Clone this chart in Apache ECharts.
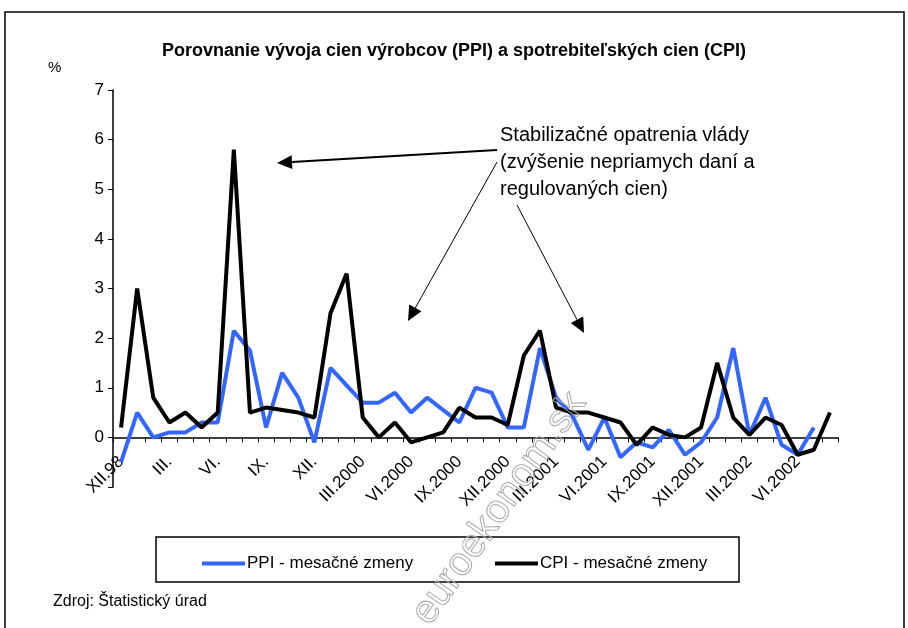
<!DOCTYPE html>
<html lang="sk">
<head>
    <meta charset="UTF-8">
    <title>PPI a CPI</title>
    <script src="https://cdn.jsdelivr.net/npm/echarts@6/dist/echarts.min.js"></script>
    <style>
        html, body { margin: 0; padding: 0; background: #fff; }
    </style>
</head>
<body>
    <div id="main" style="width: 908px;height:628px;"></div>
    <script>
        // mesiace XII.98 - VIII.2002
        const months = ['XII.98', 'I.', 'II.', 'III.', 'IV.', 'V.', 'VI.', 'VII.', 'VIII.', 'IX.', 'X.', 'XI.', 'XII.',
            'I.2000', 'II.2000', 'III.2000', 'IV.2000', 'V.2000', 'VI.2000', 'VII.2000', 'VIII.2000', 'IX.2000', 'X.2000', 'XI.2000', 'XII.2000',
            'I.2001', 'II.2001', 'III.2001', 'IV.2001', 'V.2001', 'VI.2001', 'VII.2001', 'VIII.2001', 'IX.2001', 'X.2001', 'XI.2001', 'XII.2001',
            'I.2002', 'II.2002', 'III.2002', 'IV.2002', 'V.2002', 'VI.2002', 'VII.2002', 'VIII.2002'];

        // PPI - mesačné zmeny (%)
        const ppi = [-0.5, 0.5, 0.0, 0.1, 0.1, 0.3, 0.3, 2.15, 1.75, 0.2,
            1.3, 0.8, -0.1, 1.4, 1.05, 0.7, 0.7, 0.9, 0.5, 0.8,
            0.55, 0.3, 1.0, 0.9, 0.2, 0.2, 1.8, 0.8, 0.45, -0.25,
            0.4, -0.4, -0.1, -0.2, 0.15, -0.35, -0.1, 0.4, 1.8, 0.05,
            0.8, -0.15, -0.35, 0.2, null];

        // CPI - mesačné zmeny (%)
        const cpi = [0.2, 3.0, 0.8, 0.3, 0.5, 0.2, 0.5, 5.8, 0.5, 0.6,
            0.55, 0.5, 0.4, 2.5, 3.3, 0.4, 0.0, 0.3, -0.1, 0.0,
            0.1, 0.6, 0.4, 0.4, 0.25, 1.65, 2.15, 0.6, 0.5, 0.5,
            0.4, 0.3, -0.15, 0.2, 0.05, 0.0, 0.2, 1.5, 0.4, 0.05,
            0.4, 0.25, -0.35, -0.25, 0.5];

        const FONT = '"Liberation Sans", Arial, sans-serif';

        // sipka s plnou hlavou
        function arrow(x1, y1, x2, y2, w) {
            const a = Math.atan2(y2 - y1, x2 - x1);
            const len = 15, half = 7;
            const bx = x2 - len * Math.cos(a), by = y2 - len * Math.sin(a);
            const px = -Math.sin(a) * half, py = Math.cos(a) * half;
            return [
                { type: 'line', shape: { x1: x1, y1: y1, x2: bx, y2: by }, style: { stroke: '#000', lineWidth: w } },
                { type: 'polygon', shape: { points: [[x2, y2], [bx + px, by + py], [bx - px, by - py]] }, style: { fill: '#000' } }
            ];
        }

        let myChart = echarts.init(document.getElementById('main'));

        let option = {
            backgroundColor: '#fff',
            animation: false,
            title: {
                text: 'Porovnanie vývoja cien výrobcov (PPI) a spotrebiteľských cien (CPI)',
                left: 'center',
                top: 37,
                textStyle: { fontFamily: FONT, fontSize: 18, fontWeight: 'bold', color: '#000' }
            },
            legend: [
                {
                    data: ['PPI - mesačné zmeny'], left: 197, top: 550,
                    icon: 'rect', itemWidth: 43, itemHeight: 4, itemGap: 4,
                    textStyle: { fontFamily: FONT, fontSize: 17, color: '#000', padding: [0, 0, 0, -3] }
                },
                {
                    data: ['CPI - mesačné zmeny'], left: 490, top: 550,
                    icon: 'rect', itemWidth: 43, itemHeight: 4, itemGap: 4,
                    textStyle: { fontFamily: FONT, fontSize: 17, color: '#000', padding: [0, 0, 0, -3] }
                }
            ],
            grid: { left: 113, right: 70, top: 90, bottom: 141 },
            xAxis: {
                type: 'category',
                data: months,
                boundaryGap: true,
                axisLine: { onZero: true, lineStyle: { color: '#000', width: 1.5 } },
                axisTick: { show: true, interval: 0, length: 5, lineStyle: { color: '#000' } },
                axisLabel: {
                    interval: 2, rotate: 45, margin: -28,
                    fontFamily: FONT, fontSize: 17, color: '#000'
                },
                splitLine: { show: false }
            },
            yAxis: {
                type: 'value',
                min: -1, max: 7, interval: 1,
                axisLine: { show: true, lineStyle: { color: '#000', width: 1.5 } },
                axisTick: { show: true, length: 5, lineStyle: { color: '#000' } },
                axisLabel: {
                    margin: 9, fontFamily: FONT, fontSize: 17, color: '#000',
                    formatter: function (v) { return v < 0 ? '' : v; }
                },
                splitLine: { show: false }
            },
            series: [
                {
                    name: 'PPI - mesačné zmeny',
                    type: 'line',
                    data: ppi,
                    symbol: 'none',
                    itemStyle: { color: '#3366ff' },
                    lineStyle: { color: '#3366ff', width: 4 }
                },
                {
                    name: 'CPI - mesačné zmeny',
                    type: 'line',
                    data: cpi,
                    symbol: 'none',
                    itemStyle: { color: '#000' },
                    lineStyle: { color: '#000', width: 4 }
                }
            ],
            graphic: [
                { type: 'rect', shape: { x: 5, y: 12, width: 899, height: 640 }, style: { fill: 'none', stroke: '#000', lineWidth: 1.5 }, silent: true },
                { type: 'text', x: 48, y: 60, style: { text: '%', font: '15px ' + FONT, fill: '#000' } },
                {
                    type: 'text', x: 500, y: 122,
                    style: { text: 'Stabilizačné opatrenia vlády\n(zvýšenie nepriamych daní a\nregulovaných cien)', font: '20px ' + FONT, fill: '#000', lineHeight: 27 }
                },
                ...arrow(497, 150, 277, 163, 2),
                ...arrow(497, 162, 408, 321, 1),
                ...arrow(517, 205, 584, 333, 1),
                { type: 'rect', shape: { x: 156, y: 537, width: 583, height: 45 }, style: { fill: 'none', stroke: '#000', lineWidth: 1.5 } },
                { type: 'text', x: 53, y: 594, style: { text: 'Zdroj: Štatistický úrad', font: '16px ' + FONT, fill: '#000' } },
                {
                    type: 'text', x: 594, y: 408, rotation: 55 * Math.PI / 180, z: 100,
                    style: { text: 'euroekonom.sk', font: '40px ' + FONT, fill: 'none', stroke: '#aaa', lineWidth: 1, align: 'right', verticalAlign: 'bottom' }
                }
            ]
        };

        myChart.setOption(option);
    </script>
</body>
</html>
